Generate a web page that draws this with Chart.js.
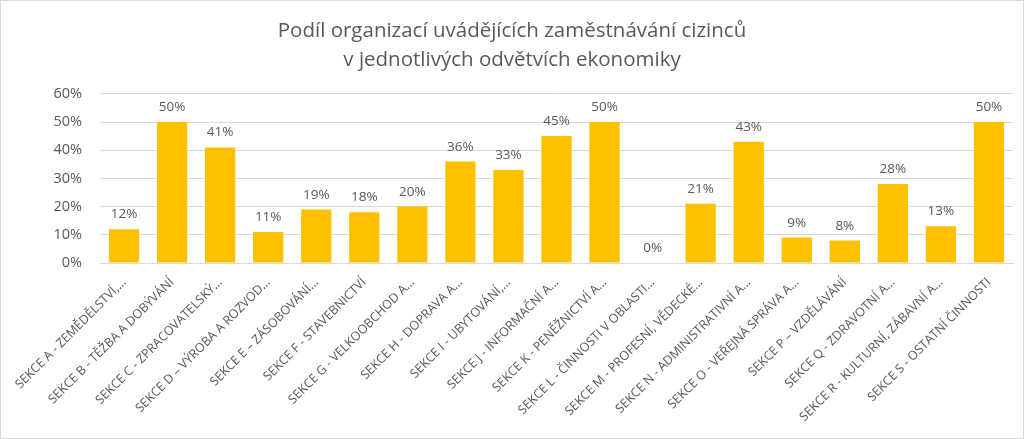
<!DOCTYPE html>
<html><head><meta charset="utf-8">
<script src="https://cdn.jsdelivr.net/npm/chart.js@4/dist/chart.umd.min.js"></script>
<style>
html,body{margin:0;padding:0;background:#fff;}
#wrap{position:absolute;left:0;top:0;width:1022px;height:437px;border:1px solid #d9d9d9;}
</style></head><body>
<div id="wrap"><canvas id="c" width="1022" height="437"></canvas></div>
<script>
const titleLines = ["Podíl organizací uvádějících zaměstnávání cizinců", "v jednotlivých odvětvích ekonomiky"];
const categories = [
  "SEKCE A - ZEMĚDĚLSTVÍ,…",
  "SEKCE B - TĚŽBA A DOBÝVÁNÍ",
  "SEKCE C - ZPRACOVATELSKÝ…",
  "SEKCE D – VÝROBA A ROZVOD…",
  "SEKCE E – ZÁSOBOVÁNÍ…",
  "SEKCE F - STAVEBNICTVÍ",
  "SEKCE G - VELKOOBCHOD A…",
  "SEKCE H - DOPRAVA A…",
  "SEKCE I - UBYTOVÁNÍ,…",
  "SEKCE J - INFORMAČNÍ A…",
  "SEKCE K - PENĚŽNICTVÍ A…",
  "SEKCE L - ČINNOSTI V OBLASTI…",
  "SEKCE M - PROFESNÍ, VĚDECKÉ…",
  "SEKCE N - ADMINISTRATIVNÍ A…",
  "SEKCE O - VEŘEJNÁ SPRÁVA A…",
  "SEKCE P – VZDĚLÁVÁNÍ",
  "SEKCE Q - ZDRAVOTNÍ A…",
  "SEKCE R - KULTURNÍ, ZÁBAVNÍ A…",
  "SEKCE S - OSTATNÍ ČINNOSTI"
];
const values = [12, 50, 41, 11, 19, 18, 20, 36, 33, 45, 50, 0, 21, 43, 9, 8, 28, 13, 50];
const yTicks = [0, 10, 20, 30, 40, 50, 60];

const FONT = "'Open Sans', 'Noto Sans', sans-serif";
const TXT = '#595959';

const valueLabels = {
  id: 'valueLabels',
  afterDatasetsDraw(chart) {
    const ctx = chart.ctx;
    const meta = chart.getDatasetMeta(0);
    ctx.save();
    ctx.font = "13.5px " + FONT;
    ctx.fillStyle = TXT;
    ctx.textAlign = 'center';
    ctx.textBaseline = 'bottom';
    meta.data.forEach((bar, i) => {
      ctx.fillText(Math.round(values[i]) + '%', bar.x, bar.y - 8);
    });
    ctx.restore();
  }
};

new Chart(document.getElementById('c'), {
  type: 'bar',
  data: {
    labels: categories,
    datasets: [{
      data: values,
      backgroundColor: '#FFC000',
      categoryPercentage: 1.0,
      barPercentage: 0.63
    }]
  },
  options: {
    responsive: false,
    animation: false,
    layout: { padding: { left: 10, right: 10, top: 10, bottom: 6 } },
    plugins: {
      legend: { display: false },
      tooltip: { enabled: false },
      title: {
        display: true,
        text: titleLines,
        color: TXT,
        font: { family: FONT, size: 20.5, weight: 'normal', lineHeight: 1.41 },
        padding: { top: 6, bottom: 19 }
      }
    },
    scales: {
      y: {
        min: 0, max: 60,
        afterBuildTicks(axis) { axis.ticks = yTicks.map(v => ({ value: v })); },
        afterFit(scale) { scale.width = 89; scale.paddingTop = 0; scale.paddingBottom = 0; },
        ticks: {
          color: TXT,
          font: { family: FONT, size: 14.5 },
          padding: 18,
          callback: v => v + '%'
        },
        grid: { color: '#d9d9d9', lineWidth: 1, drawTicks: false },
        border: { display: false }
      },
      x: {
        afterFit(scale) { scale.height = 169; scale.paddingLeft = 0; scale.paddingRight = 0; },
        ticks: {
          color: TXT,
          font: { family: FONT, size: 12.5 },
          autoSkip: false,
          minRotation: 45,
          maxRotation: 45,
          padding: 4
        },
        grid: { display: false },
        border: { display: true, color: '#d9d9d9' }
      }
    }
  },
  plugins: [valueLabels]
});
</script>
</body></html>
